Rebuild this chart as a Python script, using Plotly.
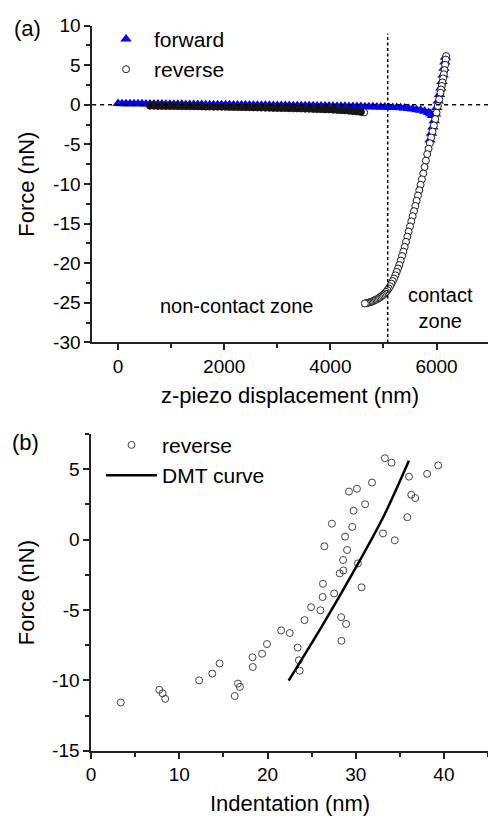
import plotly.graph_objects as go

# ---------------- panel (a): force curve ----------------
# forward (approach), non-contact part then contact part
z_fwd_free = [0, 75, 150, 225, 300, 375, 450, 525, 600, 675,
              750, 825, 900, 975, 1050, 1125, 1200, 1275, 1350, 1425,
              1500, 1575, 1650, 1725, 1800, 1875, 1950, 2025, 2100, 2175,
              2250, 2325, 2400, 2475, 2550, 2625, 2700, 2775, 2850, 2925,
              3000, 3075, 3150, 3225, 3300, 3375, 3450, 3525, 3600, 3675,
              3750, 3825, 3900, 3975, 4050, 4125, 4200, 4275, 4350, 4425,
              4500, 4575, 4650, 4725, 4800, 4875, 4950, 5025, 5100, 5175,
              5250, 5325, 5400, 5475, 5550, 5625, 5700, 5775, 5850,
              5890, 5920]
f_fwd_free = [0.15, 0.14, 0.14, 0.13, 0.13, 0.12, 0.12, 0.11, 0.10, 0.10,
              0.09, 0.09, 0.08, 0.07, 0.07, 0.06, 0.06, 0.05, 0.05, 0.04,
              0.03, 0.03, 0.02, 0.02, 0.01, 0.00, 0.00, -0.01, -0.01, -0.02,
              -0.02, -0.03, -0.04, -0.04, -0.05, -0.05, -0.06, -0.07, -0.07, -0.08,
              -0.08, -0.09, -0.09, -0.10, -0.11, -0.11, -0.12, -0.12, -0.13, -0.13,
              -0.14, -0.15, -0.15, -0.16, -0.17, -0.18, -0.18, -0.19, -0.20, -0.21,
              -0.22, -0.23, -0.24, -0.25, -0.26, -0.27, -0.27, -0.29, -0.31, -0.33,
              -0.35, -0.38, -0.42, -0.47, -0.54, -0.62, -0.70, -0.83, -0.96,
              -1.12, -1.35]
z_fwd_contact = [5876, 5905, 5932, 5957, 5982, 6006, 6031, 6056, 6081, 6103, 6124, 6141, 6156, 6168]
f_fwd_contact = [-4.45, -3.60, -2.81, -2.00, -1.17, -0.35, 0.48, 1.30, 2.12, 2.94, 3.76, 4.60, 5.41, 6.00]

# reverse (retract), contact part (from the top down) then free part
z_rev_contact = [6181, 6175, 6162, 6150, 6137, 6125, 6112, 6100, 6087, 6075,
                 6050, 6025, 6000, 5975, 5950, 5925, 5900, 5875, 5850, 5825,
                 5800, 5775, 5750, 5725, 5700, 5675, 5650, 5625, 5600, 5575,
                 5550, 5525, 5500, 5475, 5450, 5425, 5400, 5375, 5350, 5325,
                 5300, 5275, 5250, 5225, 5200, 5175, 5150, 5125, 5100, 5075,
                 5050, 5025, 5000, 4975, 4950, 4925, 4900, 4875, 4850, 4825,
                 4800, 4775, 4750, 4725, 4700, 4675, 4650]
f_rev_contact = [6.15, 5.71, 5.05, 4.38, 3.85, 3.33, 2.83, 2.37, 1.93, 1.51,
                 0.68, -0.16, -1.00, -1.81, -2.61, -3.38, -4.14, -4.86, -5.54, -6.23,
                 -7.05, -7.86, -8.67, -9.41, -10.10, -10.79, -11.46, -12.12, -12.77, -13.43,
                 -14.07, -14.72, -15.36, -16.01, -16.65, -17.30, -17.94, -18.54, -19.10, -19.67,
                 -20.23, -20.67, -21.10, -21.53, -21.94, -22.26, -22.59, -22.91, -23.19, -23.40,
                 -23.62, -23.83, -23.98, -24.10, -24.23, -24.35, -24.47, -24.56, -24.64, -24.72,
                 -24.80, -24.88, -24.93, -24.97, -25.01, -25.05, -25.09]
z_rev_free = [4636, 4575, 4500, 4425, 4350, 4275, 4200, 4125, 4050, 3975,
              3900, 3825, 3750, 3675, 3600, 3525, 3450, 3375, 3300, 3225,
              3150, 3075, 3000, 2925, 2850, 2775, 2700, 2625, 2550, 2475,
              2400, 2325, 2250, 2175, 2100, 2025, 1950, 1875, 1800, 1725,
              1650, 1575, 1500, 1425, 1350, 1275, 1200, 1125, 1050, 975,
              900, 825, 750, 675, 600]
f_rev_free = [-0.96, -0.91, -0.84, -0.80, -0.75, -0.71, -0.68, -0.65, -0.62, -0.59,
              -0.58, -0.56, -0.54, -0.52, -0.50, -0.49, -0.47, -0.46, -0.45, -0.44,
              -0.42, -0.41, -0.40, -0.39, -0.38, -0.36, -0.35, -0.34, -0.33, -0.32,
              -0.31, -0.30, -0.29, -0.28, -0.27, -0.26, -0.25, -0.24, -0.24, -0.23,
              -0.22, -0.21, -0.20, -0.19, -0.19, -0.18, -0.18, -0.17, -0.16, -0.16,
              -0.15, -0.14, -0.14, -0.13, -0.12]
contact_boundary_nm = 5080

x_ticks_a = [0, 2000, 4000, 6000]
x_minor_a = [1000, 3000, 5000]
y_ticks_a = [10, 5, 0, -5, -10, -15, -20, -25, -30]
y_labels_a = ["10", "5", "0", "-5", "-10", "-15", "-20", "-25", "-30"]
y_minor_a = [7.5, 2.5, -2.5, -7.5, -12.5, -17.5, -22.5, -27.5]

# ---------------- panel (b): indentation ----------------
indentation_nm = [33.31, 34.06, 36.04, 38.10, 39.36, 31.85, 29.24, 30.14, 36.30, 36.75,
                  31.07, 29.76, 35.85, 27.30, 29.61, 28.80, 33.09, 34.43, 26.44, 29.02,
                  28.57, 30.25, 28.61, 28.19, 26.29, 30.66, 27.56, 26.25, 24.94, 26.00,
                  24.20, 28.35, 28.91, 21.55, 22.52, 3.36, 7.73, 8.10, 8.40, 12.25,
                  13.74, 14.57, 16.28, 16.65, 16.87, 18.30, 18.33, 19.38, 19.94, 23.42,
                  23.56, 23.64, 28.38]
force_nN = [5.78, 5.46, 4.47, 4.67, 5.27, 4.05, 3.41, 3.61, 3.18, 2.95,
            2.51, 2.05, 1.59, 1.13, 0.90, 0.21, 0.44, -0.05, -0.48, -0.74,
            -1.45, -1.69, -2.19, -2.40, -3.14, -3.39, -3.83, -4.08, -4.80, -5.02,
            -5.72, -5.51, -5.99, -6.45, -6.64, -11.57, -10.67, -10.92, -11.31, -10.00,
            -9.52, -8.80, -11.11, -10.23, -10.46, -8.36, -9.05, -8.11, -7.42, -7.67,
            -8.57, -9.31, -7.19]
dmt_indent = [22.40, 26.33, 30.25, 33.23, 36.03]
dmt_force = [-10.02, -5.99, -1.73, 1.73, 5.60]

x_ticks_b = [0, 10, 20, 30, 40]
x_minor_b = [5, 15, 25, 35, 45]
y_ticks_b = [5, 0, -5, -10, -15]
y_labels_b = ["5", "0", "-5", "-10", "-15"]
y_minor_b = [7.5, 2.5, -2.5, -7.5, -12.5]

FONT = "Liberation Sans, Arial, sans-serif"
W, H = 488, 830
AX = "#222222"

fig = go.Figure()
fig.add_trace(go.Scatter(
    x=z_fwd_free + z_fwd_contact, y=f_fwd_free + f_fwd_contact,
    mode="markers", name="forward",
    marker=dict(symbol="triangle-up", size=10, color="#0000ff", line=dict(width=0)),
    xaxis="x", yaxis="y", legend="legend"))
rev_fill = ["white"] * (len(z_rev_contact) + 1) + ["#151515"] * (len(z_rev_free) - 1)
fig.add_trace(go.Scatter(
    x=z_rev_contact + z_rev_free, y=f_rev_contact + f_rev_free,
    mode="markers", name="reverse",
    marker=dict(symbol="circle", size=7, color=rev_fill, line=dict(color="#1a1a1a", width=1)),
    xaxis="x", yaxis="y", legend="legend"))
fig.add_trace(go.Scatter(
    x=indentation_nm, y=force_nN, mode="markers", name="reverse",
    marker=dict(symbol="circle-open", size=7, color="#444444", line=dict(width=1)),
    xaxis="x2", yaxis="y2", legend="legend2"))
fig.add_trace(go.Scatter(
    x=dmt_indent, y=dmt_force, mode="lines", name="DMT curve",
    line=dict(color="black", width=2.5, shape="spline", smoothing=0.8),
    xaxis="x2", yaxis="y2", legend="legend2"))


def axis(**kw):
    base = dict(showline=True, linecolor=AX, linewidth=1.5, ticks="outside", ticklen=6,
                tickwidth=1.5, tickcolor=AX, showgrid=False, zeroline=False,
                tickfont=dict(family=FONT, size=19, color="black"), tickmode="array")
    base.update(kw)
    return base


minor_style = dict(ticks="outside", ticklen=4, tickwidth=1.5, tickcolor=AX, tickmode="array", showgrid=False)
legend_font = dict(family=FONT, size=21, color="black")

fig.update_layout(
    width=W, height=H, margin=dict(l=0, r=0, t=0, b=0),
    paper_bgcolor="white", plot_bgcolor="white",
    font=dict(family=FONT, color="black"),
    xaxis=axis(domain=[88 / W, 1], range=[-490, 6970], tickvals=x_ticks_a,
               ticktext=[str(v) for v in x_ticks_a], anchor="y",
               minor=dict(tickvals=x_minor_a, **minor_style)),
    yaxis=axis(domain=[1 - 341 / H, 1 - 16 / H], range=[-30, 10], tickvals=y_ticks_a,
               ticktext=y_labels_a, anchor="x",
               minor=dict(tickvals=y_minor_a, **minor_style)),
    xaxis2=axis(domain=[87 / W, 1], range=[0, 45], tickvals=x_ticks_b,
                ticktext=[str(v) for v in x_ticks_b], anchor="y2",
                minor=dict(tickvals=x_minor_b, **minor_style)),
    yaxis2=axis(domain=[1 - 760 / H, 1 - 435 / H], range=[-15, 7.5], tickvals=y_ticks_b,
                ticktext=y_labels_b, anchor="x2",
                minor=dict(tickvals=y_minor_b, **minor_style)),
    legend=dict(x=94 / W, y=1 - 9 / H, xanchor="left", yanchor="top", font=legend_font,
                bgcolor="rgba(0,0,0,0)", borderwidth=0, itemwidth=46, tracegroupgap=0),
    legend2=dict(x=97 / W, y=1 - 425.5 / H, xanchor="left", yanchor="top", font=legend_font,
                 bgcolor="rgba(0,0,0,0)", borderwidth=0, itemwidth=51, tracegroupgap=0),
    showlegend=True,
)

fig.add_shape(type="line", xref="x domain", x0=0, x1=1, yref="y", y0=0, y1=0,
              line=dict(color="black", width=1.5, dash="4px,4px"), layer="above")
fig.add_shape(type="line", xref="x", x0=contact_boundary_nm, x1=contact_boundary_nm,
              yref="y", y0=-30, y1=9, line=dict(color="black", width=1.5, dash="3px,2.5px"),
              layer="above")

ann_font = dict(family=FONT, size=22, color="black")
notes = [
    dict(text="(a)", x=22.5 / W, y=1 - 18.5 / H),
    dict(text="(b)", x=21 / W, y=1 - 444 / H),
    dict(text="Force (nN)", x=22 / W, y=1 - 178.5 / H, textangle=-90),
    dict(text="Force (nN)", x=22 / W, y=1 - 597.5 / H, textangle=-90),
    dict(text="z-piezo displacement (nm)", x=288 / W, y=1 - 396 / H),
    dict(text="Indentation (nm)", x=288 / W, y=1 - 814 / H),
]
for n in notes:
    fig.add_annotation(xref="paper", yref="paper", xanchor="center", yanchor="middle",
                       showarrow=False, font=ann_font, **n)

zone_font = dict(family=FONT, size=20, color="black")
fig.add_annotation(xref="x", yref="y", x=2232, y=-25.35, text="non-contact zone",
                   showarrow=False, font=zone_font, xanchor="center", yanchor="middle")
fig.add_annotation(xref="x", yref="y", x=6074, y=-25.6, text="contact<br>zone",
                   showarrow=False, font=zone_font, xanchor="center", yanchor="middle")

fig.write_html("out.html")
